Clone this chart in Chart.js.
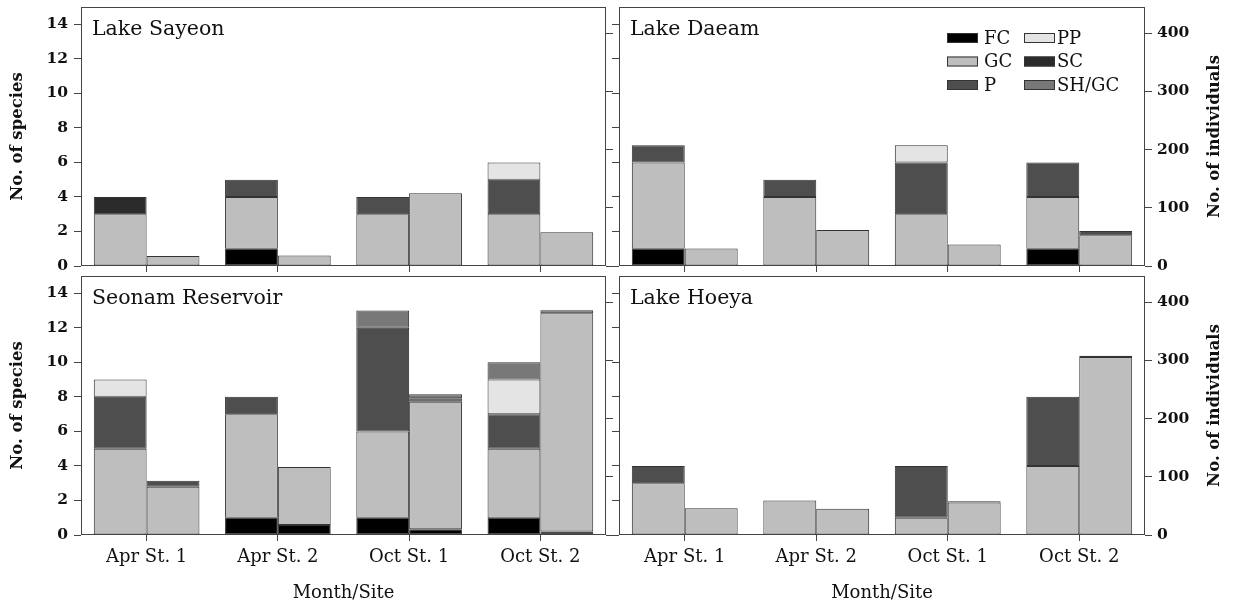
<!DOCTYPE html>
<html>
<head>
<meta charset="utf-8">
<script src="https://cdn.jsdelivr.net/npm/chart.js@4.4.0/dist/chart.umd.min.js"></script>
<style>
  html, body { margin: 0; padding: 0; background: #fff; }
  body { width: 1234px; height: 605px; position: relative; overflow: hidden; }
  canvas { position: absolute; display: block; }
</style>
</head>
<body>
<canvas id="cTL"></canvas>
<canvas id="cTR"></canvas>
<canvas id="cBL"></canvas>
<canvas id="cBR"></canvas>
<script>
// data
const categories = ['Apr St. 1', 'Apr St. 2', 'Oct St. 1', 'Oct St. 2'];
const groups = ['FC', 'GC', 'P', 'PP', 'SC', 'SH/GC'];
const groupColors = ['#000000', '#bebebe', '#4e4e4e', '#e4e4e4', '#2b2b2b', '#787878'];

// rows follow groups (FC, GC, P, PP, SC, SH/GC), columns follow categories
const sayeonSpecies = [
  [0, 1, 0, 0],
  [3, 3, 3, 3],
  [0, 1, 1, 2],
  [0, 0, 0, 1],
  [1, 0, 0, 0],
  [0, 0, 0, 0]
];
const sayeonIndividuals = [
  [0, 0, 0, 0],
  [17, 18, 125, 58],
  [0, 0, 0, 0],
  [0, 0, 0, 0],
  [0, 0, 0, 0],
  [0, 0, 0, 0]
];
const daeamSpecies = [
  [1, 0, 0, 1],
  [5, 4, 3, 3],
  [1, 1, 3, 2],
  [0, 0, 1, 0],
  [0, 0, 0, 0],
  [0, 0, 0, 0]
];
const daeamIndividuals = [
  [0, 0, 0, 0],
  [30, 62, 37, 53],
  [0, 0, 0, 7],
  [0, 0, 0, 0],
  [0, 0, 0, 0],
  [0, 0, 0, 0]
];
const seonamSpecies = [
  [0, 1, 1, 1],
  [5, 6, 5, 4],
  [3, 1, 6, 2],
  [1, 0, 0, 2],
  [0, 0, 0, 0],
  [0, 0, 1, 1]
];
const seonamIndividuals = [
  [0, 17, 10, 6],
  [83, 100, 219, 375],
  [10, 0, 6, 0],
  [0, 0, 0, 0],
  [0, 0, 0, 0],
  [0, 0, 7, 5]
];
const hoeyaSpecies = [
  [0, 0, 0, 0],
  [3, 2, 1, 4],
  [1, 0, 3, 4],
  [0, 0, 0, 0],
  [0, 0, 0, 0],
  [0, 0, 0, 0]
];
const hoeyaIndividuals = [
  [0, 0, 0, 0],
  [46, 45, 56, 306],
  [0, 0, 2, 2],
  [0, 0, 0, 0],
  [0, 0, 0, 0],
  [0, 0, 0, 0]
];

const speciesMax = 15, speciesStep = 2;
const individualsMax = 445, individualsStep = 100;

const SERIF = '"DejaVu Serif", serif';
const INK = '#111';
const LINE = '#333';
const FRAME = '#444';
Chart.defaults.font.family = SERIF;
Chart.defaults.color = INK;

// box, panel name, right title and the legend
const panelDeco = {
  id: 'panelDeco',
  afterDatasetsDraw(chart, args, o) {
    const { ctx, chartArea: a } = chart;
    ctx.save();
    ctx.strokeStyle = FRAME;
    ctx.lineWidth = 1;
    ctx.strokeRect(Math.round(a.left) + 0.5, Math.round(a.top) + 0.5, Math.round(a.width) - 1, Math.round(a.height) - 1);

    ctx.fillStyle = INK;
    ctx.font = '20.5px ' + SERIF;
    ctx.textBaseline = 'alphabetic';
    ctx.textAlign = 'left';
    ctx.fillText(o.name, a.left + 11, a.top + 28);

    if (o.rightTitle) {
      ctx.save();
      ctx.font = 'bold 16.5px ' + SERIF;
      ctx.translate(a.right + 70, (a.top + a.bottom) / 2);
      ctx.rotate(-Math.PI / 2);
      ctx.textAlign = 'center';
      ctx.textBaseline = 'middle';
      ctx.fillText(o.rightTitle, 0, 0);
      ctx.restore();
    }

    if (o.legend) {
      ctx.font = '18px ' + SERIF;
      ctx.textBaseline = 'middle';
      groups.forEach((g, i) => {
        const col = Math.floor(i / 3), row = i % 3;
        const sx = a.left + (col ? 405 : 328);
        const cy = a.top + 31 + row * 23.5;
        ctx.fillStyle = groupColors[i];
        ctx.fillRect(sx, cy - 5, 31, 10);
        ctx.strokeStyle = LINE;
        ctx.strokeRect(sx + 0.5, cy - 5 + 0.5, 30, 9);
        ctx.fillStyle = INK;
        ctx.fillText(g, sx + (col ? 33 : 37), cy + 1);
      });
    }
    ctx.restore();
  }
};

function makePanel(id, name, species, individuals, col, row) {
  const canvas = document.getElementById(id);
  canvas.width = col ? 622 : 614;
  canvas.height = row ? 335 : 276;
  canvas.style.left = (col ? 612 : 0) + 'px';
  canvas.style.top = (row ? 270 : 0) + 'px';

  const datasets = [];
  const addStack = (rows, stack, axis) => {
    groups.forEach((g, i) => {
      datasets.push({
        label: g,
        data: rows[i].map(v => v || null),
        stack: stack,
        yAxisID: axis,
        backgroundColor: groupColors[i],
        borderColor: LINE,
        borderWidth: 1,
        borderSkipped: false
      });
    });
  };
  addStack(species, 'species', 'ySp');
  addStack(individuals, 'individuals', 'yInd');

  const tickFont = { size: 15.5, weight: 'bold' };
  const labelFont = { size: 18 };

  return new Chart(canvas, {
    type: 'bar',
    data: { labels: categories, datasets },
    options: {
      responsive: false,
      animation: false,
      events: [],
      categoryPercentage: 0.805,
      barPercentage: 1,
      layout: { padding: { top: row ? 6 : 7, left: 0, right: 0, bottom: 0 } },
      plugins: {
        legend: { display: false },
        tooltip: { enabled: false },
        panelDeco: { name, rightTitle: col ? 'No. of individuals' : null, legend: col === 1 && row === 0 }
      },
      scales: {
        x: {
          stacked: true,
          border: { display: false },
          grid: { offset: false, drawOnChartArea: false, tickLength: 6, color: FRAME },
          ticks: { display: row === 1, padding: 6, font: labelFont, color: INK },
          title: { display: row === 1, text: 'Month/Site', font: labelFont, color: INK, padding: { top: 0, bottom: 1 } },
          afterFit: s => { s.height = row ? 70 : 10; s.paddingLeft = 0; s.paddingRight = 0; }
        },
        ySp: {
          position: 'left',
          stacked: true,
          min: 0, max: speciesMax,
          border: { display: false },
          grid: { drawOnChartArea: false, tickLength: 7, color: FRAME },
          ticks: { display: col === 0, stepSize: speciesStep, includeBounds: false, padding: 6, font: tickFont, color: INK },
          title: { display: col === 0, text: 'No. of species', font: { size: 16.5, weight: 'bold' }, color: INK, padding: { top: 8, bottom: 0 } },
          afterFit: s => { s.width = col ? 7 : 81; s.paddingTop = 0; s.paddingBottom = 0; }
        },
        yInd: {
          position: 'right',
          stacked: true,
          min: 0, max: individualsMax,
          border: { display: false },
          grid: { drawOnChartArea: false, tickLength: 7, color: FRAME },
          ticks: { display: col === 1, stepSize: individualsStep, includeBounds: false, padding: 5, font: tickFont, color: INK },
          afterFit: s => { s.width = col ? 89 : 8; s.paddingTop = 0; s.paddingBottom = 0; }
        }
      }
    },
    plugins: [panelDeco]
  });
}

makePanel('cTL', 'Lake Sayeon', sayeonSpecies, sayeonIndividuals, 0, 0);
makePanel('cTR', 'Lake Daeam', daeamSpecies, daeamIndividuals, 1, 0);
makePanel('cBL', 'Seonam Reservoir', seonamSpecies, seonamIndividuals, 0, 1);
makePanel('cBR', 'Lake Hoeya', hoeyaSpecies, hoeyaIndividuals, 1, 1);
</script>
</body>
</html>
